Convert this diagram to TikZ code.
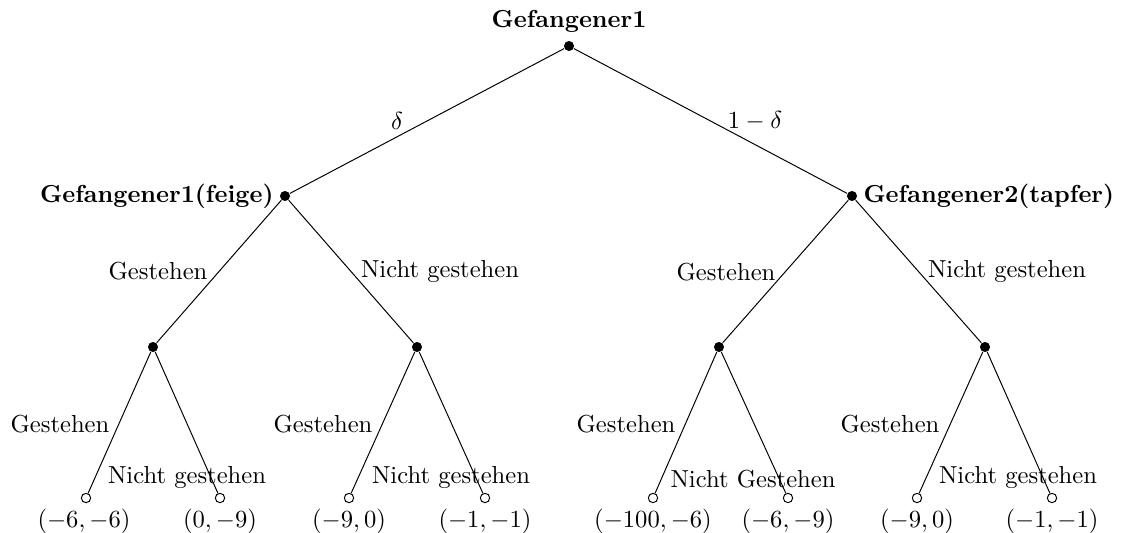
\documentclass[tikz,border=0pt]{standalone}
\begin{document}
\begin{tikzpicture}[x=0.4065pt,y=-0.4065pt,
  inner/.style={circle,fill=black,inner sep=0pt,minimum size=4.1pt},
  leaf/.style={circle,draw=black,fill=white,inner sep=0pt,minimum size=3.8pt,line width=0.4pt},
  edge/.style={line width=0.4pt},
  lbl/.style={inner sep=0pt,font=\normalsize}]
\useasboundingbox (0,0) rectangle (1124,533);
% nodes
\node[inner] (r) at (569,46) {};
\node[inner] (a) at (285,196) {};
\node[inner] (b) at (852,196) {};
\node[inner] (a1) at (153,347) {};
\node[inner] (a2) at (417,347) {};
\node[inner] (b1) at (719,347) {};
\node[inner] (b2) at (985,347) {};
\node[leaf] (l1) at (86,498) {};
\node[leaf] (l2) at (220,498) {};
\node[leaf] (l3) at (349,498) {};
\node[leaf] (l4) at (485,498) {};
\node[leaf] (l5) at (653,498) {};
\node[leaf] (l6) at (788,498) {};
\node[leaf] (l7) at (917,498) {};
\node[leaf] (l8) at (1052,498) {};
% edges
\draw[edge] (r) -- (a);
\draw[edge] (r) -- (b);
\draw[edge] (a) -- (a1);
\draw[edge] (a) -- (a2);
\draw[edge] (b) -- (b1);
\draw[edge] (b) -- (b2);
\draw[edge] (a1) -- (l1);
\draw[edge] (a1) -- (l2);
\draw[edge] (a2) -- (l3);
\draw[edge] (a2) -- (l4);
\draw[edge] (b1) -- (l5);
\draw[edge] (b1) -- (l6);
\draw[edge] (b2) -- (l7);
\draw[edge] (b2) -- (l8);
% player labels
\node[lbl] (tr) at (569,21) {\textbf{Gefangener1}};
\node[lbl,anchor=east] (ta) at (274,196) {\textbf{Gefangener1(feige)}};
\node[lbl,anchor=west] (tb) at (863,196) {\textbf{Gefangener2(tapfer)}};
% chance labels
\node[lbl] (d1) at (397,121) {$\delta$};
\node[lbl] (d2) at (755,121) {$1-\delta$};
% level 1 action labels
\node[lbl] (g1) at (158,271) {Gestehen};
\node[lbl] (n1) at (440,271) {Nicht gestehen};
\node[lbl] (g2) at (726,272) {Gestehen};
\node[lbl] (n2) at (1007,271) {Nicht gestehen};
% level 2 action labels
\node[lbl] (g11) at (60,424) {Gestehen};
\node[lbl] (n11) at (187,477) {Nicht gestehen};
\node[lbl] (g12) at (323,424) {Gestehen};
\node[lbl] (n12) at (451,477) {Nicht gestehen};
\node[lbl] (g21) at (626,424) {Gestehen};
\node[lbl] (n21) at (753,479) {Nicht Gestehen};
\node[lbl] (g22) at (890,424) {Gestehen};
\node[lbl] (n22) at (1018,477) {Nicht gestehen};
% payoffs
\node[lbl] (p1) at (84,521) {$(-6,-6)$};
\node[lbl] (p2) at (220,521) {$(0,-9)$};
\node[lbl] (p3) at (349,521) {$(-9,0)$};
\node[lbl] (p4) at (485,521) {$(-1,-1)$};
\node[lbl] (p5) at (653,521) {$(-100,-6)$};
\node[lbl] (p6) at (788,521) {$(-6,-9)$};
\node[lbl] (p7) at (917,521) {$(-9,0)$};
\node[lbl] (p8) at (1052,521) {$(-1,-1)$};
\end{tikzpicture}
\end{document}
